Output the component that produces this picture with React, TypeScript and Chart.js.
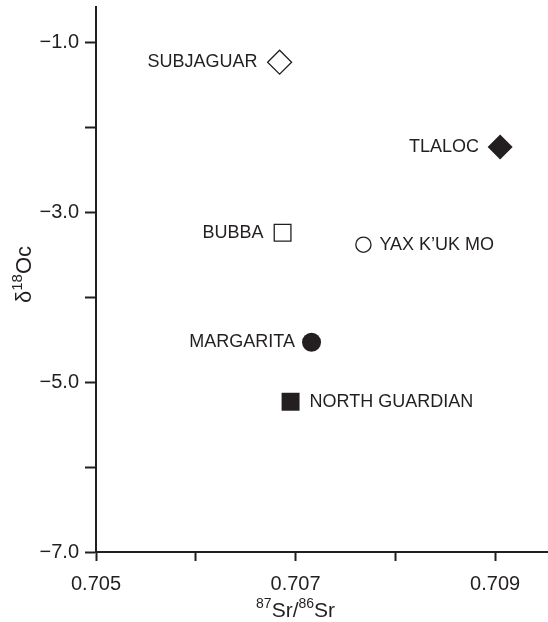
import React, { useEffect, useRef } from 'react';
import { Chart, registerables } from 'chart.js';

Chart.register(...registerables);

// ---- data ----
const siteNames = ['SUBJAGUAR', 'TLALOC', 'BUBBA', 'YAX K\u2019UK MO', 'MARGARITA', 'NORTH GUARDIAN'];
const srRatio = [0.70684, 0.70905, 0.70687, 0.70768, 0.70716, 0.70695];
const d18O = [-1.23, -2.23, -3.24, -3.38, -4.53, -5.23];
const markerKind = ['openDiamond', 'filledDiamond', 'openSquare', 'openCircle', 'filledCircle', 'filledSquare'];
const labelSide = ['left', 'left', 'left', 'right', 'left', 'right'];

const xTickValues = [0.705, 0.706, 0.707, 0.708, 0.709];
const xTickLabels = ['0.705', '', '0.707', '', '0.709'];
const yTickValues = [-7, -6, -5, -4, -3, -2, -1];
const yTickLabels = ['\u22127.0', '', '\u22125.0', '', '\u22123.0', '', '\u22121.0'];
const xMin = 0.705;
const xMax = 0.70953;
const yMin = -7;
const yMax = -0.58;

// ---- styles ----
const INK = '#231f20';
const FONT = '"Liberation Sans", Arial, Helvetica, sans-serif';

const markerStyles: Record<string, { shape: string; radius: number; fill: boolean; gap: number }> = {
  openDiamond: { shape: 'rectRot', radius: 12, fill: false, gap: 22 },
  filledDiamond: { shape: 'rectRot', radius: 12.5, fill: true, gap: 21 },
  openSquare: { shape: 'rect', radius: 11.8, fill: false, gap: 19 },
  filledSquare: { shape: 'rect', radius: 12.7, fill: true, gap: 19 },
  openCircle: { shape: 'circle', radius: 7.6, fill: false, gap: 16 },
  filledCircle: { shape: 'circle', radius: 9.5, fill: true, gap: 16.5 },
};

const zeroPads = (s: any) => {
  s.paddingLeft = 0;
  s.paddingRight = 0;
  s.paddingTop = 0;
  s.paddingBottom = 0;
};

const labelPlugin = {
  id: 'pointLabels',
  afterDatasetsDraw(chart: any) {
    const meta = chart.getDatasetMeta(0);
    const ctx = chart.ctx;
    ctx.save();
    ctx.font = `18px ${FONT}`;
    ctx.fillStyle = INK;
    ctx.textBaseline = 'middle';
    meta.data.forEach((pt: any, i: number) => {
      const st = markerStyles[markerKind[i]];
      if (labelSide[i] === 'left') {
        ctx.textAlign = 'right';
        ctx.fillText(siteNames[i], pt.x - st.gap, pt.y);
      } else {
        ctx.textAlign = 'left';
        ctx.fillText(siteNames[i], pt.x + st.gap, pt.y);
      }
    });
    ctx.restore();
  },
};

function drawRich(
  ctx: CanvasRenderingContext2D,
  parts: { t: string; sup: boolean }[],
  cx: number,
  baseline: number,
  bigSize: number,
  smallSize: number,
  raise: number
) {
  const big = `${bigSize}px ${FONT}`;
  const small = `${smallSize}px ${FONT}`;
  let total = 0;
  parts.forEach((p) => {
    ctx.font = p.sup ? small : big;
    total += ctx.measureText(p.t).width;
  });
  let x = cx - total / 2;
  ctx.textAlign = 'left';
  ctx.textBaseline = 'alphabetic';
  parts.forEach((p) => {
    ctx.font = p.sup ? small : big;
    ctx.fillText(p.t, x, p.sup ? baseline - raise : baseline);
    x += ctx.measureText(p.t).width;
  });
}

const titlePlugin = {
  id: 'axisTitles',
  afterDraw(chart: any) {
    const ctx = chart.ctx as CanvasRenderingContext2D;
    const area = chart.chartArea;
    const xs = chart.scales.x;
    ctx.save();
    ctx.fillStyle = INK;
    const cx = xs.getPixelForValue((xTickValues[0] + xTickValues[xTickValues.length - 1]) / 2);
    drawRich(
      ctx,
      [
        { t: '87', sup: true },
        { t: 'Sr/', sup: false },
        { t: '86', sup: true },
        { t: 'Sr', sup: false },
      ],
      cx,
      area.bottom + 65,
      21,
      14,
      9
    );
    ctx.translate(area.left - 65, (area.top + area.bottom) / 2 - 5);
    ctx.rotate(-Math.PI / 2);
    drawRich(
      ctx,
      [
        { t: '\u03b4', sup: false },
        { t: '18', sup: true },
        { t: 'Oc', sup: false },
      ],
      0,
      0,
      22,
      15,
      9
    );
    ctx.restore();
  },
};

export default function App() {
  const canvasRef = useRef<HTMLCanvasElement | null>(null);

  useEffect(() => {
    document.body.style.margin = '0';
    const canvas = canvasRef.current;
    if (!canvas) return;
    const styles = markerKind.map((k) => markerStyles[k]);
    const chart = new Chart(canvas, {
      type: 'scatter',
      data: {
        datasets: [
          {
            data: srRatio.map((x, i) => ({ x, y: d18O[i] })),
            pointStyle: styles.map((s) => s.shape) as any,
            pointRadius: styles.map((s) => s.radius),
            pointBackgroundColor: styles.map((s) => (s.fill ? INK : '#ffffff')),
            pointBorderColor: INK,
            pointBorderWidth: styles.map((s) => (s.fill ? 0 : 1.3)),
            clip: false as any,
          },
        ],
      },
      options: {
        responsive: false,
        animation: false,
        events: [],
        layout: { autoPadding: false, padding: { top: 7, right: 0, left: 0, bottom: 0 } },
        plugins: {
          legend: { display: false },
          tooltip: { enabled: false },
        },
        scales: {
          x: {
            type: 'linear',
            min: xMin,
            max: xMax,
            afterBuildTicks: (s: any) => {
              s.ticks = xTickValues.map((v) => ({ value: v }));
            },
            afterFit: (s: any) => {
              s.height = 70;
              zeroPads(s);
            },
            ticks: {
              callback: (_v: any, i: number) => xTickLabels[i],
              autoSkip: false,
              maxRotation: 0,
              font: { family: FONT, size: 20 },
              color: INK,
              padding: 11,
            },
            grid: {
              drawOnChartArea: false,
              drawTicks: true,
              tickLength: 9,
              tickWidth: 2,
              tickColor: INK,
            },
            border: { display: true, color: INK, width: 2 },
          },
          y: {
            type: 'linear',
            min: yMin,
            max: yMax,
            afterBuildTicks: (s: any) => {
              s.ticks = yTickValues.map((v) => ({ value: v }));
            },
            afterFit: (s: any) => {
              s.width = 96;
              zeroPads(s);
            },
            ticks: {
              callback: (_v: any, i: number) => yTickLabels[i],
              autoSkip: false,
              font: { family: FONT, size: 20 },
              color: INK,
              padding: 6,
            },
            grid: {
              drawOnChartArea: false,
              drawTicks: true,
              tickLength: 11,
              tickWidth: 2,
              tickColor: INK,
            },
            border: { display: true, color: INK, width: 2 },
          },
        },
      },
      plugins: [labelPlugin, titlePlugin],
    });
    return () => chart.destroy();
  }, []);

  return (
    <div style={{ width: 548, height: 622, background: '#ffffff' }}>
      <canvas ref={canvasRef} width={548} height={622} style={{ display: 'block' }} />
    </div>
  );
}
